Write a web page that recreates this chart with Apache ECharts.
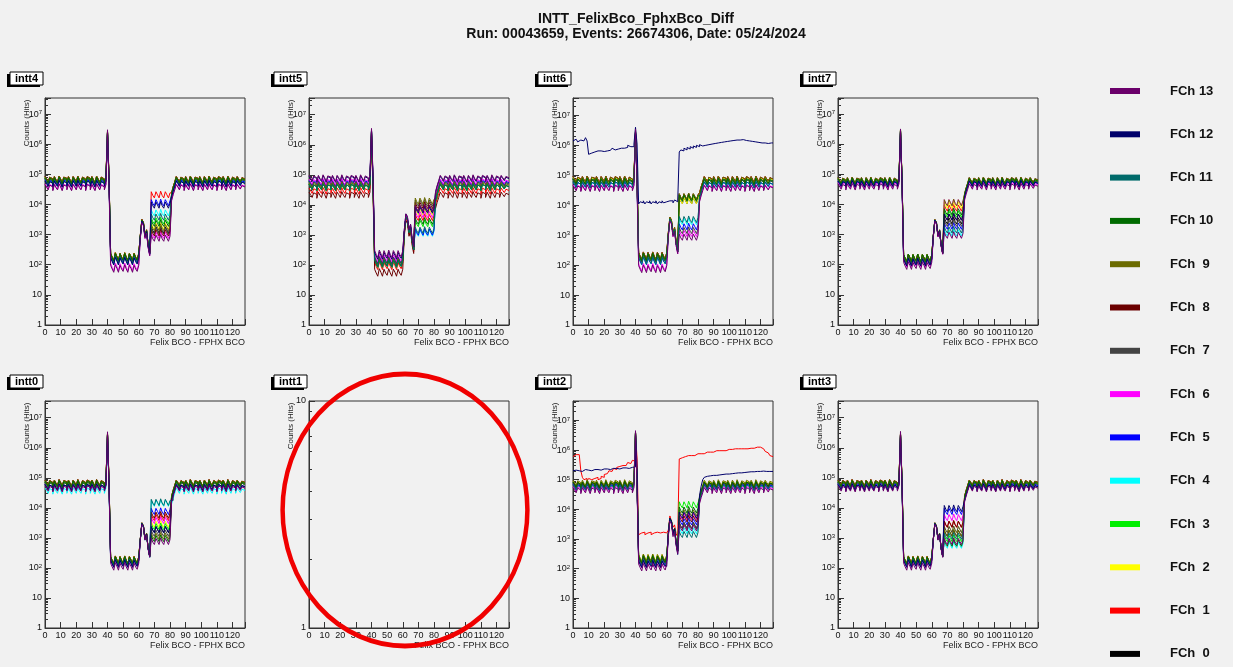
<!DOCTYPE html>
<html>
<head>
<meta charset="utf-8">
<title>INTT_FelixBco_FphxBco_Diff</title>
<script src="https://cdn.jsdelivr.net/npm/echarts@6/dist/echarts.min.js"></script>
<style>
html, body { margin: 0; padding: 0; background: #f1f1f1; }
#main { width: 1233px; height: 667px; }
</style>
</head>
<body>
<div id="main"></div>
<script>
var FONT = '"Liberation Sans", Arial, Helvetica, sans-serif';

var channelNames = ['FCh  0', 'FCh  1', 'FCh  2', 'FCh  3', 'FCh  4', 'FCh  5', 'FCh  6',
    'FCh  7', 'FCh  8', 'FCh  9', 'FCh 10', 'FCh 11', 'FCh 12', 'FCh 13'];
var channelColors = ['#000000', '#ff0000', '#ffff00', '#00ee00', '#00ffff', '#0000ff', '#ff00ff',
    '#444444', '#6b0000', '#6b6b00', '#006b00', '#006b6b', '#00006b', '#6b006b'];

var panelNames = ['intt4', 'intt5', 'intt6', 'intt7', 'intt0', 'intt1', 'intt2', 'intt3'];
var panelYMax = [3.4e7, 3.6e7, 3.8e7, 3.4e7, 3.6e7, 10, 4.5e7, 3.6e7];

// bins 0..127 of Felix BCO - FPHX BCO
var nBins = 128;
// segments of the histogram: first bin of each, and which level column it uses
// level columns: [before 40, spike, low 42-60, bump 61-67, 68-80, after 81]
var segFirstBin = [0, 40, 41, 42, 61, 68, 81, 84];
var segLevelIdx = [0, 1, 0, 2, 3, 4, 5, 5];
// bin by bin shape seen in the plots (relative to the segment level)
var ripple = [
    1.2, 1.0, 0.8, 1.15, 1.0, 0.75, 1.2, 0.95, 0.8, 1.25, 1.0, 0.75, 1.15, 1.05, 0.8,
    1.2, 0.95, 0.75, 1.2, 1.0, 0.8, 1.25, 0.95, 0.8, 1.15, 1.0, 0.75, 1.2, 1.05, 0.8,
    1.2, 0.95, 0.75, 1.25, 1.0, 0.8, 1.15, 1.0, 0.8, 1.2,
    1.0,
    1.0,
    1.2, 0.9, 0.7, 1.25, 0.95, 0.7, 1.2, 0.9, 0.75, 1.25, 0.9, 0.7, 1.2, 0.95, 0.7, 1.2, 0.9, 0.75, 1.2,
    0.3, 1.0, 0.8, 0.3, 0.45, 0.15, 0.08,
    1.2, 0.9, 0.75, 1.2, 0.95, 0.75, 1.25, 0.9, 0.75, 1.2, 0.95, 0.75, 1.1,
    0.35, 0.55, 0.8,
    1.2, 1.0, 0.8, 1.15, 1.0, 0.75, 1.2, 0.95, 0.8, 1.25, 1.0, 0.75, 1.15, 1.05, 0.8,
    1.2, 0.95, 0.75, 1.2, 1.0, 0.8, 1.25, 0.95, 0.8, 1.15, 1.0, 0.75, 1.2, 1.05, 0.8,
    1.2, 0.95, 0.75, 1.25, 1.0, 0.8, 1.15, 1.0, 0.8, 1.2, 1.0, 0.85, 1.1, 1.0
];

// per channel (FCh 0..13) levels: [plateau, spike, low, bump, mid, plateau2]
var intt4Levels = [
    [6e4, 2.5e6, 1.8e2, 3e3, 1.5e3, 6e4], [7e4, 2.8e6, 2e2, 3.2e3, 2.2e4, 7e4],
    [6.5e4, 2.6e6, 2e2, 3e3, 2e3, 6.5e4], [6e4, 2.5e6, 1.8e2, 3e3, 3e3, 6e4],
    [5.5e4, 2.4e6, 1.6e2, 2.8e3, 5.5e3, 5.5e4], [5.5e4, 2.5e6, 1.6e2, 2.8e3, 1.2e4, 5.5e4],
    [4e4, 2.2e6, 9e1, 2.5e3, 1e3, 4e4], [6e4, 2.5e6, 1.8e2, 3e3, 1.4e3, 6e4],
    [7e4, 2.7e6, 2e2, 3.2e3, 1.2e3, 7e4], [7e4, 2.7e6, 2e2, 3.2e3, 1.8e3, 7e4],
    [6.5e4, 2.6e6, 1.9e2, 3e3, 2.5e3, 6.5e4], [5e4, 2.4e6, 1.5e2, 2.8e3, 4e3, 5e4],
    [5e4, 2.6e6, 1.4e2, 2.8e3, 1e4, 5e4], [3.8e4, 3e6, 8e1, 2.5e3, 8e2, 3.8e4]
];
var intt5Levels = [
    [5e4, 3e6, 1.5e2, 4e3, 8e3, 5e4], [3e4, 2.5e6, 1e2, 3.5e3, 4e3, 3e4],
    [4e4, 2.8e6, 1.2e2, 4e3, 6e3, 4e4], [4e4, 2.8e6, 1.2e2, 4e3, 2.5e3, 4e4],
    [5e4, 3e6, 1.5e2, 4e3, 1.2e3, 5e4], [5.5e4, 3e6, 1.5e2, 4e3, 1.3e3, 5.5e4],
    [6e4, 3e6, 1.8e2, 4.5e3, 5e3, 6e4], [5e4, 3e6, 1.5e2, 4e3, 1.2e4, 5e4],
    [2.2e4, 2.2e6, 6e1, 3e3, 1e4, 2.2e4], [4.5e4, 3e6, 1.3e2, 4e3, 1.4e4, 4.5e4],
    [4e4, 2.8e6, 1.2e2, 4e3, 3e3, 4e4], [4e4, 2.8e6, 1.2e2, 4e3, 1.5e3, 4e4],
    [7.5e4, 3.2e6, 2.2e2, 5e3, 7e3, 7.5e4], [8e4, 3.5e6, 2.5e2, 5e3, 8e3, 8e4]
];
var intt6Levels = [
    [6e4, 2.8e6, 1.8e2, 3.5e3, 1.5e4, 6e4], [7.5e4, 3e6, 2.2e2, 4e3, 2e4, 7.5e4],
    [7e4, 3e6, 2e2, 4e3, 1.5e4, 7e4], [6e4, 2.8e6, 1.8e2, 3.5e3, 2e4, 6e4],
    [5e4, 2.6e6, 1.5e2, 3.5e3, 3e3, 5e4], [5e4, 2.6e6, 1.5e2, 3.5e3, 2e3, 5e4],
    [4e4, 2.4e6, 9e1, 3e3, 1.2e3, 4e4], [6e4, 2.8e6, 1.8e2, 3.5e3, 1.5e3, 6e4],
    [7.5e4, 3e6, 2.2e2, 4e3, 2e4, 7.5e4], [7.5e4, 3e6, 2.2e2, 4e3, 2e4, 7.5e4],
    [6.5e4, 2.8e6, 2e2, 3.5e3, 1.8e4, 6.5e4], [5e4, 2.6e6, 1.5e2, 3.5e3, 3.5e3, 5e4],
    null, [3.8e4, 3.5e6, 8e1, 3e3, 9e2, 3.8e4]
];
var intt7Levels = [
    [5.5e4, 2.8e6, 1.5e2, 3e3, 3e3, 5.5e4], [6e4, 3e6, 1.8e2, 3e3, 8e3, 6e4],
    [6e4, 3e6, 1.8e2, 3e3, 1e4, 6e4], [6e4, 3e6, 1.8e2, 3e3, 5e3, 6e4],
    [5e4, 2.8e6, 1.3e2, 3e3, 1.2e3, 5e4], [5e4, 2.8e6, 1.3e2, 3e3, 2e3, 5e4],
    [4.5e4, 2.6e6, 1.2e2, 2.8e3, 1.2e4, 4.5e4], [5.5e4, 2.8e6, 1.5e2, 3e3, 2.5e3, 5.5e4],
    [6.5e4, 3e6, 1.8e2, 3.2e3, 4e3, 6.5e4], [6.5e4, 3e6, 1.8e2, 3.2e3, 1.2e4, 6.5e4],
    [6e4, 3e6, 1.8e2, 3e3, 6e3, 6e4], [5e4, 2.8e6, 1.3e2, 3e3, 1.5e3, 5e4],
    [5e4, 2.8e6, 1.3e2, 3e3, 4e3, 5e4], [4e4, 3.2e6, 1e2, 2.8e3, 1e3, 4e4]
];
var intt0Levels = [
    [6e4, 2.8e6, 1.8e2, 3e3, 2e3, 6e4], [7e4, 3e6, 2e2, 3e3, 5e3, 7e4],
    [6.5e4, 3e6, 2e2, 3e3, 3e3, 6.5e4], [6e4, 2.8e6, 1.8e2, 3e3, 2.5e3, 6e4],
    [3.8e4, 2.5e6, 1.5e2, 2.8e3, 1.5e4, 3.8e4], [5e4, 2.8e6, 1.6e2, 3e3, 8e3, 5e4],
    [5e4, 2.8e6, 1.5e2, 3e3, 4e3, 5e4], [6e4, 2.8e6, 1.8e2, 3e3, 1.5e3, 6e4],
    [7e4, 3e6, 2e2, 3.2e3, 6e3, 7e4], [7e4, 3e6, 2e2, 3.2e3, 1.2e3, 7e4],
    [6.5e4, 3e6, 1.9e2, 3e3, 1e3, 6.5e4], [5e4, 2.8e6, 1.6e2, 3e3, 1.6e4, 5e4],
    [5e4, 2.8e6, 1.5e2, 3e3, 2e3, 5e4], [4.5e4, 3.4e6, 1.2e2, 2.8e3, 8e2, 4.5e4]
];
var intt2Levels = [
    [6e4, 4e6, 2e2, 5e3, 3e3, 6e4], null,
    [7.5e4, 4e6, 2.5e2, 5e3, 6e3, 7.5e4], [7e4, 4e6, 2.2e2, 5e3, 1.5e4, 7e4],
    [6e4, 3.8e6, 2e2, 5e3, 2e3, 6e4], [6e4, 3.8e6, 1.8e2, 5e3, 4e3, 6e4],
    [5e4, 3.5e6, 1.5e2, 4.5e3, 6e3, 5e4], [6.5e4, 4e6, 2e2, 5e3, 3e3, 6.5e4],
    [7e4, 4e6, 2.2e2, 5e3, 5e3, 7e4], [8e4, 4.2e6, 2.5e2, 5e3, 8e3, 8e4],
    [7e4, 4e6, 2.2e2, 5e3, 1e4, 7e4], [5.5e4, 3.8e6, 1.6e2, 4.5e3, 1.5e3, 5.5e4],
    null, [4.5e4, 4.5e6, 1.2e2, 4e3, 2.5e3, 4.5e4]
];
var intt3Levels = [
    [6e4, 2.8e6, 1.8e2, 3e3, 1.5e3, 6e4], [7e4, 3e6, 2e2, 3e3, 3e3, 7e4],
    [6.5e4, 3e6, 2e2, 3e3, 2e3, 6.5e4], [6e4, 2.8e6, 1.8e2, 3e3, 1e3, 6e4],
    [5e4, 2.6e6, 1.5e2, 3e3, 6e2, 5e4], [5.5e4, 2.8e6, 1.6e2, 3e3, 8e3, 5.5e4],
    [5e4, 2.8e6, 1.5e2, 3e3, 5e3, 5e4], [6e4, 2.8e6, 1.8e2, 3e3, 2e3, 6e4],
    [7e4, 3e6, 2e2, 3.2e3, 3e3, 7e4], [7e4, 3e6, 2e2, 3.2e3, 1.5e3, 7e4],
    [6.5e4, 3e6, 1.9e2, 3e3, 7e2, 6.5e4], [5e4, 2.8e6, 1.6e2, 3e3, 1.2e3, 5e4],
    [5e4, 2.8e6, 1.5e2, 3e3, 1e4, 5e4], [4.5e4, 3.5e6, 1.2e2, 2.8e3, 8e2, 4.5e4]
];

// channels that stand out, read bin by bin
var intt6Fch12 = [
    1.4e6, 1.6e6, 1.7e6, 1.3e6, 1.5e6, 1.7e6, 1.4e6, 1.5e6, 1.8e6, 1.4e6,
    5e5, 5.5e5, 4.8e5, 6e5, 5.5e5, 6.5e5, 5.8e5, 6.5e5, 7e5, 6.2e5,
    7e5, 6.5e5, 7.5e5, 6.8e5, 7.5e5, 8e5, 7e5, 8e5, 7.5e5, 8.5e5,
    8e5, 9e5, 8e5, 9e5, 8.5e5, 1e6, 9e5, 1e6, 9e5, 1.1e6,
    4e6, 1.1e6,
    1.1e4, 1.3e4, 1.2e4, 1.4e4, 1.1e4, 1.3e4, 1.2e4, 1.4e4, 1.1e4, 1.3e4,
    1.2e4, 1.4e4, 1.1e4, 1.3e4, 1.2e4, 1.4e4, 1.2e4, 1.3e4, 1.2e4, 1.4e4,
    1.3e4, 1.4e4, 1.2e4, 1.5e4, 1.3e4, 1.4e4,
    6e5, 7e5, 6.5e5, 8e5, 7e5, 8.5e5, 7.5e5, 9e5, 8e5, 9.5e5,
    8.5e5, 1e6, 9e5, 1.05e6, 9.5e5, 1.1e6, 1e6, 1.15e6, 1.05e6, 1.2e6,
    1.1e6, 1.25e6, 1.15e6, 1.3e6, 1.2e6, 1.35e6, 1.25e6, 1.4e6, 1.3e6, 1.45e6,
    1.35e6, 1.5e6, 1.4e6, 1.55e6, 1.45e6, 1.6e6, 1.5e6, 1.65e6, 1.5e6, 1.7e6,
    1.55e6, 1.6e6, 1.45e6, 1.55e6, 1.4e6, 1.5e6, 1.35e6, 1.45e6, 1.3e6, 1.4e6,
    1.25e6, 1.35e6, 1.2e6, 1.3e6, 1.2e6, 1.3e6, 1.15e6, 1.25e6, 1.2e6, 1.2e6
];
var intt2Fch1 = [
    6e5, 7e5, 6.5e5, 7e5, 6e5, 2e5, 1.2e5,
    1e5, 1.1e5, 9e4, 1.1e5, 1e5, 9e4, 1.1e5, 1e5, 1.2e5, 1e5, 1.1e5, 1.3e5, 1.2e5,
    1.5e5, 1.6e5, 1.8e5, 2e5, 1.9e5, 2.2e5, 2.4e5, 2.2e5, 2.6e5, 2.8e5,
    2.6e5, 3e5, 3.2e5, 3e5, 3.5e5, 3.8e5, 3.5e5, 4e5, 4.5e5, 4.2e5,
    4e6, 5e5,
    1.4e3, 1.6e3, 1.5e3, 1.7e3, 1.4e3, 1.6e3, 1.5e3, 1.7e3, 1.4e3, 1.6e3,
    1.5e3, 1.7e3, 1.5e3, 1.6e3, 1.4e3, 1.7e3, 1.5e3, 1.6e3, 1.5e3,
    2e3, 6e3, 4e3, 2.5e3, 3e3, 1.5e3, 1.2e3,
    5e5, 5.5e5, 5e5, 6e5, 5.5e5, 6.5e5, 6e5, 6.5e5, 7e5, 6.5e5,
    7e5, 7.5e5, 7e5, 7.5e5, 8e5, 7.5e5, 8e5, 8.5e5, 8e5, 8.5e5,
    9e5, 8.5e5, 9e5, 9.5e5, 9e5, 9.5e5, 1e6, 9.5e5, 1e6, 9.5e5,
    1e6, 1.05e6, 1e6, 1.05e6, 1e6, 1.1e6, 1.05e6, 1.1e6, 1.05e6, 1.1e6,
    1.15e6, 1.1e6, 1.15e6, 1.1e6, 1.2e6, 1.15e6, 1.2e6, 1.15e6, 1.2e6, 1.25e6,
    1.2e6, 1.25e6, 1.2e6, 1.1e6, 1e6, 9e5, 8e5, 7.5e5, 6.5e5, 6e5
];
var intt2Fch12 = [
    2e5, 2.1e5, 1.9e5, 2e5, 2.1e5, 1.9e5, 2e5, 2.2e5, 2e5, 2.1e5,
    2.2e5, 2e5, 2.1e5, 2.2e5, 2e5, 2.2e5, 2.3e5, 2.1e5, 2.2e5, 2.3e5,
    2.1e5, 2.3e5, 2.4e5, 2.2e5, 2.3e5, 2.4e5, 2.2e5, 2.4e5, 2.5e5, 2.3e5,
    2.4e5, 2.5e5, 2.3e5, 2.5e5, 2.6e5, 2.4e5, 2.5e5, 2.6e5, 2.5e5, 2.7e5,
    4e6, 2.6e5,
    1.8e2, 1.4e2, 1.1e2, 1.9e2, 1.4e2, 1.1e2, 1.8e2, 1.4e2, 1.2e2, 1.9e2,
    1.4e2, 1.1e2, 1.8e2, 1.4e2, 1.1e2, 1.8e2, 1.4e2, 1.2e2, 1.8e2,
    1.5e3, 5e3, 4e3, 1.5e3, 2.2e3, 7e2, 3e2,
    8e3, 6e3, 5e3, 8e3, 6.5e3, 5e3, 8.5e3, 6e3, 5e3, 8e3, 6.5e3, 5e3, 7e3,
    3e4, 6e4, 1e5,
    1.2e5, 1.3e5, 1.2e5, 1.35e5, 1.25e5, 1.4e5, 1.3e5, 1.4e5, 1.35e5, 1.45e5,
    1.4e5, 1.5e5, 1.4e5, 1.55e5, 1.45e5, 1.55e5, 1.5e5, 1.6e5, 1.5e5, 1.65e5,
    1.55e5, 1.7e5, 1.6e5, 1.7e5, 1.65e5, 1.75e5, 1.7e5, 1.8e5, 1.7e5, 1.85e5,
    1.75e5, 1.85e5, 1.8e5, 1.9e5, 1.8e5, 1.9e5, 1.85e5, 1.95e5, 1.85e5, 1.9e5,
    1.95e5, 1.9e5, 2e5, 1.9e5
];

var panelLevels = {
    intt4: intt4Levels, intt5: intt5Levels, intt6: intt6Levels, intt7: intt7Levels,
    intt0: intt0Levels, intt1: null, intt2: intt2Levels, intt3: intt3Levels
};
var panelOverrides = {
    intt6: {12: intt6Fch12},
    intt2: {1: intt2Fch1, 12: intt2Fch12}
};

// layout
var gridLeft = [45, 309, 573, 838];
var gridTop = [98, 401];
var gridW = 200, gridH = 227;

function binValues(lv) {
    var out = [];
    for (var b = 0; b < nBins; b++) {
        var s = 0;
        while (s + 1 < segFirstBin.length && segFirstBin[s + 1] <= b) s++;
        out.push(lv[segLevelIdx[s]] * ripple[b]);
    }
    return out;
}

function toSteps(vals) {
    var pts = vals.map(function (v, b) { return [b, v]; });
    pts.push([vals.length, vals[vals.length - 1]]);
    return pts;
}

function logLabel(v) {
    var e = Math.log(v) / Math.LN10;
    var r = Math.round(e);
    if (Math.abs(e - r) > 1e-6) return '';
    if (r === 0) return '1';
    if (r === 1) return '10';
    return '10{s|' + r + '}';
}

var chart = echarts.init(document.getElementById('main'));

var grids = [], xAxes = [], yAxes = [], series = [], graphics = [];

panelNames.forEach(function (name, i) {
    var left = gridLeft[i % 4];
    var top = gridTop[Math.floor(i / 4)];
    grids.push({
        left: left, top: top, width: gridW, height: gridH,
        show: true, borderColor: '#333', borderWidth: 1, backgroundColor: 'transparent',
        containLabel: false, outerBoundsMode: 'none'
    });
    xAxes.push({
        gridIndex: i, type: 'value', min: 0, max: nBins, interval: 10,
        name: 'Felix BCO - FPHX BCO', nameLocation: 'end', nameGap: 0, nameMoveOverlap: false,
        nameTextStyle: {fontSize: 9, color: '#222', fontFamily: FONT, align: 'right', verticalAlign: 'top', padding: [13, 0, 0, 0]},
        axisLine: {show: true, onZero: false, lineStyle: {color: '#333', width: 1}},
        axisTick: {show: true, inside: true, length: 6, lineStyle: {color: '#333'}},
        axisLabel: {
            fontSize: 9, color: '#111', fontFamily: FONT, margin: 3, hideOverlap: false,
            formatter: function (v) { return v % 10 === 0 ? String(v) : ''; }
        },
        splitLine: {show: false}
    });
    yAxes.push({
        gridIndex: i, type: 'log', logBase: 10, min: 1, max: panelYMax[i],
        name: 'Counts (Hits)', nameLocation: 'end', nameRotate: 90, nameGap: -25, nameMoveOverlap: false,
        nameTextStyle: {fontSize: 8, color: '#222', fontFamily: FONT, align: 'center', verticalAlign: 'bottom', padding: [0, 0, 14, 0]},
        axisLine: {show: true, lineStyle: {color: '#333', width: 1}},
        axisTick: {show: true, inside: true, length: 6, lineStyle: {color: '#333'}},
        minorTick: {show: true, splitNumber: 9, length: 3, lineStyle: {color: '#333'}},
        axisLabel: {
            fontSize: 9, color: '#111', fontFamily: FONT, margin: 3, hideOverlap: false,
            formatter: logLabel,
            rich: {s: {fontSize: 6, verticalAlign: 'top', fontFamily: FONT, color: '#111'}}
        },
        splitLine: {show: false}
    });

    // panel name box
    var bx = left - 35, by = top - 26;
    graphics.push({type: 'rect', shape: {x: bx - 3, y: by + 2, width: 33, height: 13}, style: {fill: '#000'}, z: 10});
    graphics.push({type: 'rect', shape: {x: bx, y: by, width: 33, height: 13}, style: {fill: '#fff', stroke: '#000', lineWidth: 1}, z: 11});
    graphics.push({type: 'text', x: bx + 16.5, y: by + 7, z: 12,
        style: {text: name, fill: '#000', font: 'bold 11px ' + FONT, textAlign: 'center', textVerticalAlign: 'middle'}});

    var lv = panelLevels[name];
    if (!lv) return;
    for (var ch = 0; ch < channelNames.length; ch++) {
        var ov = panelOverrides[name] && panelOverrides[name][ch];
        var vals = ov || binValues(lv[ch]);
        series.push({
            name: channelNames[ch], type: 'line', xAxisIndex: i, yAxisIndex: i,
            step: 'end', symbol: 'none', silent: true, animation: false,
            data: toSteps(vals),
            lineStyle: {color: channelColors[ch], width: 1},
            itemStyle: {color: channelColors[ch]}
        });
    }
});

// red hand-drawn ring over the empty intt1 panel
graphics.push({
    type: 'circle', x: 405, y: 510, scaleX: 0.9, scaleY: 1, z: 50,
    shape: {cx: 0, cy: 0, r: 136},
    style: {fill: 'none', stroke: '#f00000', lineWidth: 5}
});

var option = {
    backgroundColor: '#f1f1f1',
    animation: false,
    title: {
        text: 'INTT_FelixBco_FphxBco_Diff',
        subtext: 'Run: 00043659, Events: 26674306, Date: 05/24/2024',
        left: 631, top: 7, textAlign: 'center', itemGap: 1,
        textStyle: {fontSize: 14, fontWeight: 'bold', color: '#111', fontFamily: FONT},
        subtextStyle: {fontSize: 14, fontWeight: 'bold', color: '#111', fontFamily: FONT}
    },
    legend: {
        orient: 'vertical', left: 1110, top: 83, padding: 0,
        data: channelNames.slice().reverse(),
        icon: 'rect', itemWidth: 30, itemHeight: 6, itemGap: 27.3,
        selectedMode: false,
        textStyle: {fontSize: 13, fontWeight: 'bold', color: '#111', fontFamily: FONT, padding: [0, 0, 0, 25], lineHeight: 16}
    },
    grid: grids,
    xAxis: xAxes,
    yAxis: yAxes,
    series: series,
    graphic: graphics
};

chart.setOption(option);
</script>
</body>
</html>
